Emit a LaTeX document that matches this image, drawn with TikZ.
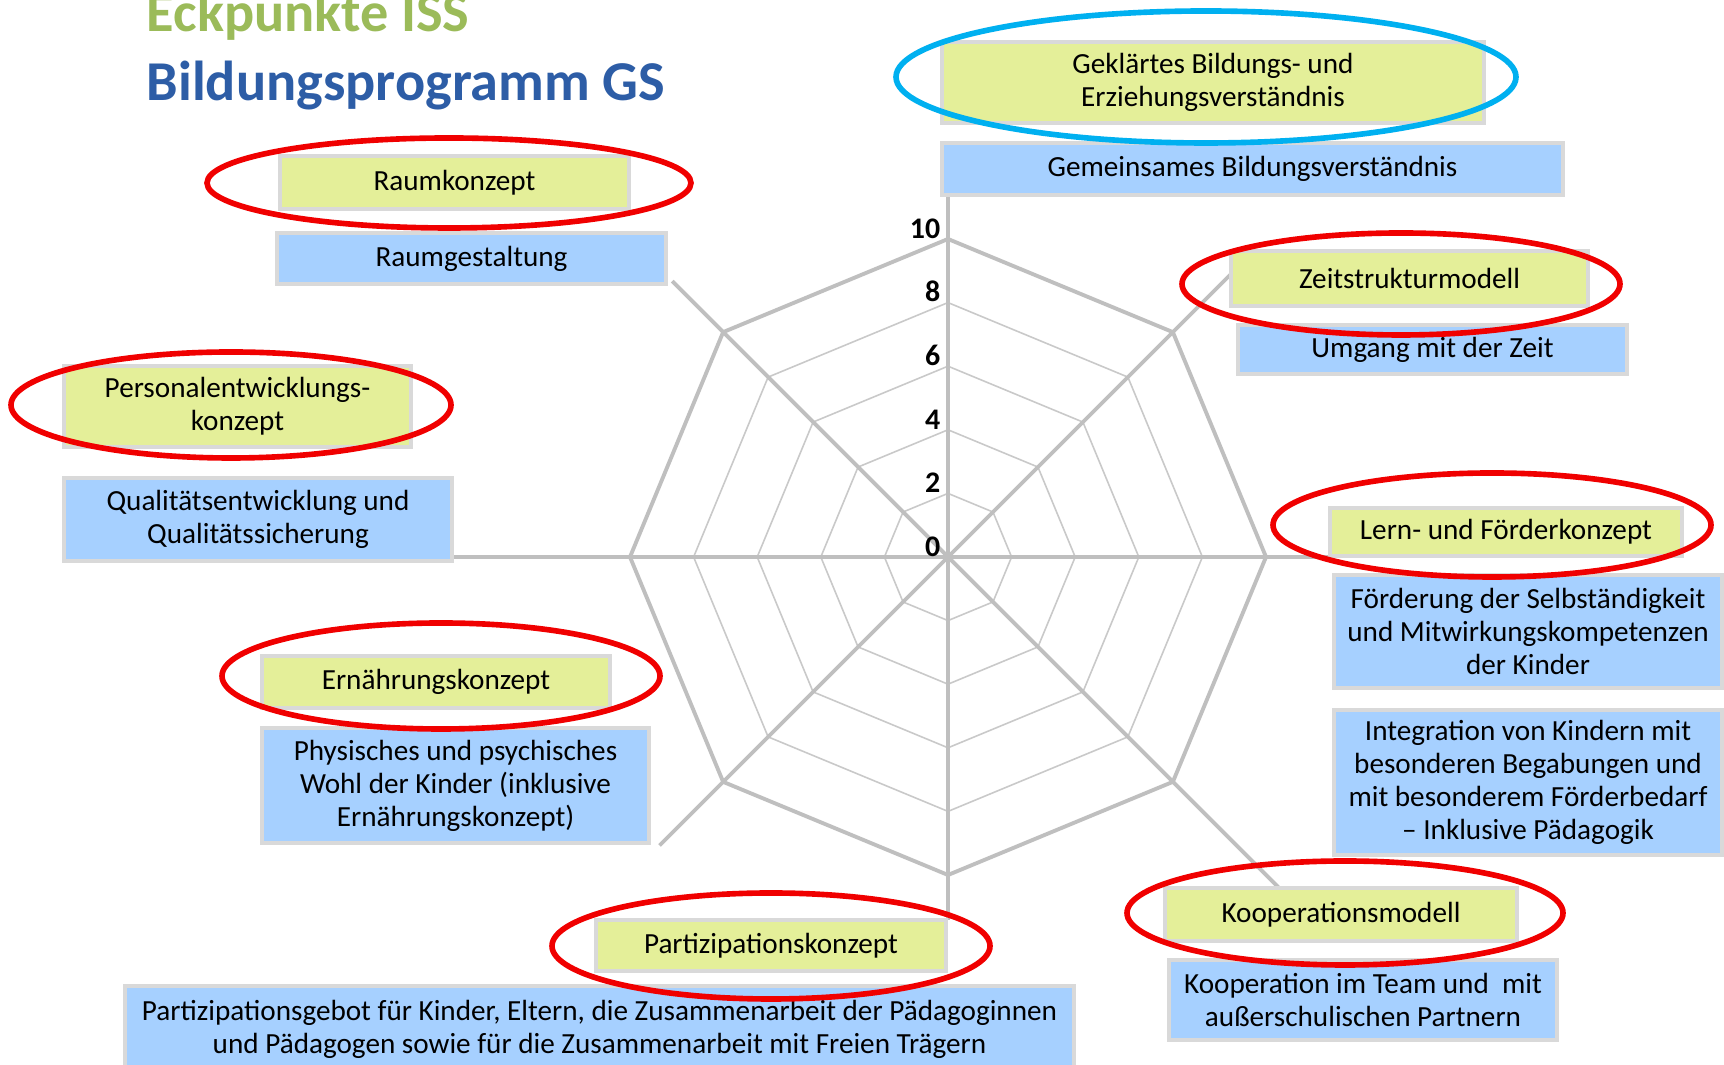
\documentclass[tikz,border=0pt]{standalone}
\usepackage{fontspec}
\setmainfont{Carlito}
\usepackage{xcolor}
\usetikzlibrary{positioning,calc}

\definecolor{titlegreen}{HTML}{9BBB59}
\definecolor{titleblue}{HTML}{2D5DA6}
\definecolor{boxgreen}{HTML}{E4EF99}
\definecolor{boxblue}{HTML}{A6D0FF}
\definecolor{boxframe}{HTML}{D9D9D9}
\definecolor{webgray}{HTML}{BFBFBF}
\definecolor{markred}{HTML}{F00000}
\definecolor{markblue}{HTML}{00B0F0}

\tikzset{
  box/.style={align=center, inner sep=0pt, draw=boxframe, line width=1.2pt,
    font=\fontsize{8.3}{9.4}\selectfont},
  greenbox/.style={box, fill=boxgreen},
  bluebox/.style={box, fill=boxblue},
  redring/.style={draw=markred, line width=1.6pt},
  bluering/.style={draw=markblue, line width=1.6pt},
  axisline/.style={draw=webgray, line width=1.1pt},
  webline/.style={draw=webgray!85, line width=0.45pt},
  ticklabel/.style={anchor=south east, inner xsep=2pt, inner ysep=0pt,
    font=\fontsize{8.5}{10}\selectfont\bfseries},
  headline/.style={anchor=base west, inner sep=0pt, font=\fontsize{16}{19}\selectfont\bfseries},
}

\begin{document}
\begin{tikzpicture}[x=0.01cm, y=-0.01cm]
    \useasboundingbox (0,0) rectangle (1724,1065);
    \clip (0,0) rectangle (1724,1065);
    \fill[white] (0,0) rectangle (1724,1065);

    % Titel
    \node[headline, text=titlegreen] (eckpunkte) at (146,32) {Eckpunkte ISS};
    \node[headline, text=titleblue] (programm) at (146,101) {Bildungsprogramm GS};

    % Netzdiagramm
    \begin{scope}[shift={(948,557)}, y=0.01cm]
        \foreach \r in {63.6,127.2,190.8,254.4}
            \draw[webline] (0:\r) -- (45:\r) -- (90:\r) -- (135:\r) -- (180:\r)
                -- (225:\r) -- (270:\r) -- (315:\r) -- cycle;
        \foreach \a/\l in {0/382, 45/410, 90/362, 135/390, 180/495, 225/408, 270/363, 315/467}
            \draw[axisline] (0,0) -- (\a:\l);
        \draw[axisline] (0:318) -- (45:318) -- (90:318) -- (135:318) -- (180:318)
            -- (225:318) -- (270:318) -- (315:318) -- cycle;
        \foreach \v in {0,2,...,10}
            \node[ticklabel] (tick\v) at (90:{\v*31.8}) {\v};
    \end{scope}

    % Kaesten
    \node[greenbox, minimum width=3.49cm, minimum height=0.53cm] (raum) at (454.5,182.5) {Raumkonzept};
    \node[bluebox, minimum width=3.89cm, minimum height=0.51cm] (raumgest) at (471.5,258.5) {Raumgestaltung};

    \node[greenbox, minimum width=5.42cm, minimum height=0.81cm] (bildung) at (1213,82.5) {Geklärtes Bildungs- und\\Erziehungsverständnis};
    \node[bluebox, minimum width=6.21cm, minimum height=0.52cm] (gemeinsam) at (1252.5,169) {Gemeinsames Bildungsverständnis};

    \node[greenbox, minimum width=3.57cm, minimum height=0.55cm] (zeit) at (1409.5,278.5) {Zeitstrukturmodell};
    \node[bluebox, minimum width=3.89cm, minimum height=0.49cm] (umgang) at (1432.5,349.5) {Umgang mit der Zeit};

    \node[greenbox, minimum width=3.47cm, minimum height=0.81cm] (personal) at (237.5,406.5) {Personalentwicklungs-\\konzept};
    \node[bluebox, minimum width=3.88cm, minimum height=0.83cm] (qualitaet) at (258,519.5) {Qualitätsentwicklung und\\Qualitätssicherung};

    \node[greenbox, minimum width=3.52cm, minimum height=0.48cm] (lern) at (1506,532) {Lern- und Förderkonzept};
    \node[bluebox, minimum width=3.88cm, minimum height=1.13cm] (foerderung) at (1528,631.5) {Förderung der Selbständigkeit\\und Mitwirkungskompetenzen\\der Kinder};
    \node[bluebox, minimum width=3.88cm, minimum height=1.45cm] (integration) at (1528,782.5) {Integration von Kindern mit\\besonderen Begabungen und\\mit besonderem Förderbedarf\\– Inklusive Pädagogik};

    \node[greenbox, minimum width=3.48cm, minimum height=0.52cm] (ernaehrung) at (436,682) {Ernährungskonzept};
    \node[bluebox, minimum width=3.87cm, minimum height=1.15cm] (wohl) at (455.5,785.5) {Physisches und psychisches\\Wohl der Kinder (inklusive\\Ernährungskonzept)};

    \node[greenbox, minimum width=3.50cm, minimum height=0.51cm] (partizipation) at (771,945.5) {Partizipationskonzept};
    \node[bluebox, minimum width=9.49cm, minimum height=0.87cm] (partgebot) at (599.5,1029.5) {Partizipationsgebot für Kinder, Eltern, die Zusammenarbeit der Pädagoginnen\\und Pädagogen sowie für die Zusammenarbeit mit Freien Trägern};

    \node[greenbox, minimum width=3.52cm, minimum height=0.53cm] (kooperation) at (1341,914.5) {Kooperationsmodell};
    \node[bluebox, minimum width=3.88cm, minimum height=0.80cm] (team) at (1363,1000) {Kooperation im Team und\ \ mit\\außerschulischen Partnern};

    % Markierungen
    \draw[bluering] (1206,77) ellipse [x radius=310, y radius=66];
    \draw[redring] (449,183) ellipse [x radius=242, y radius=45];
    \draw[redring] (1401,284) ellipse [x radius=219, y radius=51];
    \draw[redring] (231,405) ellipse [x radius=220, y radius=53];
    \draw[redring] (1492,525) ellipse [x radius=219, y radius=52];
    \draw[redring] (441,676) ellipse [x radius=219, y radius=53];
    \draw[redring] (771,946) ellipse [x radius=219, y radius=53];
    \draw[redring] (1345,913) ellipse [x radius=218, y radius=52];
\end{tikzpicture}
\end{document}
